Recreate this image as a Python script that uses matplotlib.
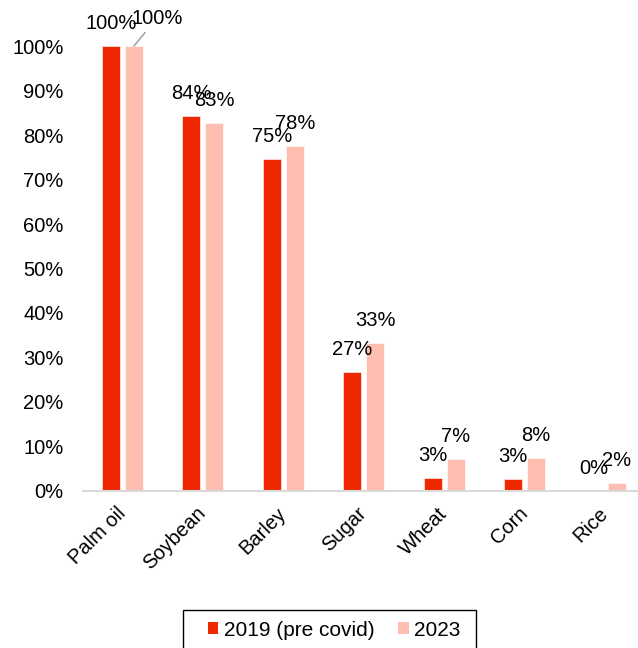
import matplotlib.pyplot as plt
import numpy as np
from matplotlib.patches import Patch, Rectangle

plt.rcParams['font.family'] = ['Liberation Sans', 'DejaVu Sans']

crops = ["Palm oil", "Soybean", "Barley", "Sugar", "Wheat", "Corn", "Rice"]
share_2019 = [100.0, 84.3, 74.6, 26.7, 3.0, 2.7, 0.0]
share_2023 = [100.0, 82.8, 77.6, 33.3, 7.2, 7.5, 1.9]
series_names = ["2019 (pre covid)", "2023"]

red = '#F02800'
pink = '#FDBEB0'
fs = 14.5

fig = plt.figure(figsize=(6.38, 6.48), dpi=100)
ax = fig.add_axes([0.1301, 0.2423, 0.8699, 0.6867])

x = np.arange(len(crops))
w = 0.224
off = 0.143
b1 = ax.bar(x - off, share_2019, w, color=red, edgecolor='white', linewidth=0.4)
b2 = ax.bar(x + off, share_2023, w, color=pink, edgecolor='white', linewidth=0.4)

# value labels above each bar
for xi, v in zip(x - off, share_2019):
    ax.annotate(f"{v:.0f}%", (xi, v), xytext=(0, 16), textcoords='offset points',
                ha='center', va='center', fontsize=fs, annotation_clip=False)
for i, (xi, v) in enumerate(zip(x + off, share_2023)):
    if i == 0:
        # first label pushed up-right with a leader line
        ax.annotate(f"{v:.0f}%", (xi, v), xytext=(16.5, 20), textcoords='offset points',
                    ha='center', va='center', fontsize=fs, annotation_clip=False,
                    arrowprops=dict(arrowstyle='-', color='#A6A6A6', lw=1.2,
                                    shrinkA=2, shrinkB=0))
    else:
        ax.annotate(f"{v:.0f}%", (xi, v), xytext=(0, 16), textcoords='offset points',
                    ha='center', va='center', fontsize=fs, annotation_clip=False)

ax.set_xlim(-0.491, 6.41)
ax.set_ylim(0, 100)
ax.set_yticks(np.arange(0, 101, 10))
ax.set_yticklabels([f"{t}%" for t in range(0, 101, 10)], fontsize=fs)
ax.set_xticks(x)
ax.set_xticklabels(crops, fontsize=fs, rotation=45, ha='right', va='center',
                   rotation_mode='anchor')
ax.tick_params(axis='y', length=0, pad=14)
ax.tick_params(axis='x', length=0, pad=14)

for s in ['top', 'right', 'left']:
    ax.spines[s].set_visible(False)
ax.spines['bottom'].set_color('#D9D9D9')
ax.spines['bottom'].set_linewidth(1.5)

handles = [Patch(facecolor=red), Patch(facecolor=pink)]
fig.legend(handles, series_names, loc='center', bbox_to_anchor=(334 / 638, 1 - 630 / 648),
           ncol=2, frameon=False, fontsize=15, handlelength=0.5, handleheight=0.5,
           handletextpad=0.25, columnspacing=1.15, borderpad=0)
fig.add_artist(Rectangle((183 / 638, -0.02), (476 - 183) / 638, 0.02 + 38 / 648,
                         transform=fig.transFigure, fill=False, edgecolor='black', lw=1))

fig.savefig("out.png", dpi=100)
